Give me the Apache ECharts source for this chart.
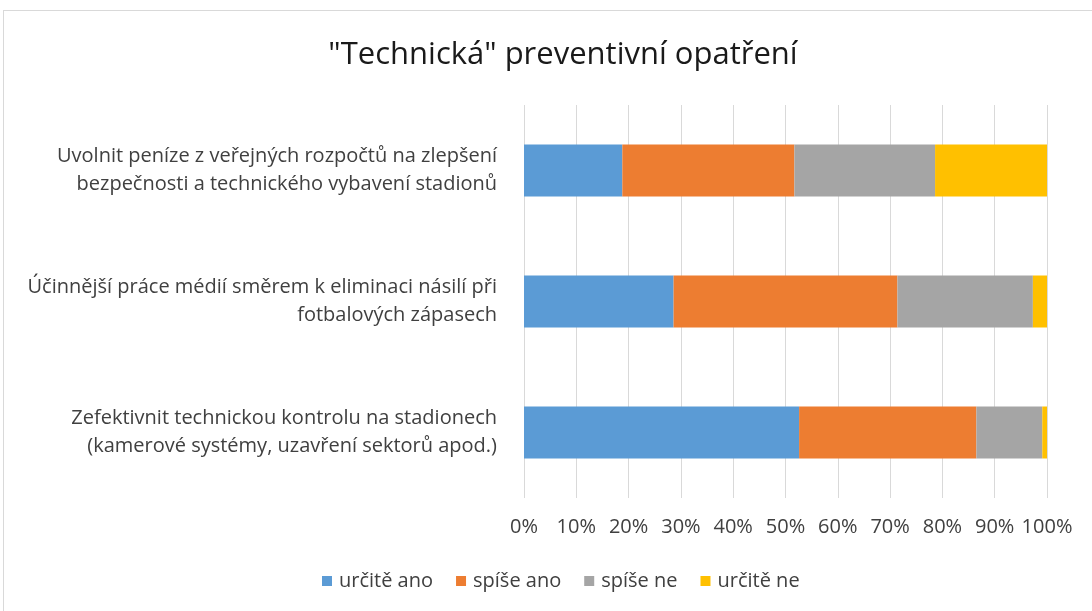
<!DOCTYPE html>
<html>
<head>
<meta charset="utf-8">
<script src="https://cdn.jsdelivr.net/npm/echarts@6/dist/echarts.min.js"></script>
<style>
  html, body { margin: 0; padding: 0; background: #fff; }
  #graf { position: absolute; left: 3px; top: 10px; width: 1120px; height: 620px; border: 1px solid #d9d9d9; box-sizing: border-box; }
  #chart { position: absolute; left: 0; top: 0; width: 1092px; height: 611px; }
</style>
</head>
<body>
<div id="graf"></div>
<div id="chart"></div>
<script>
// dados
const kategorie = [
    "Uvolnit peníze z veřejných rozpočtů na zlepšení\nbezpečnosti a technického vybavení stadionů",
    "Účinnější práce médií směrem k eliminaci násilí při\nfotbalových zápasech",
    "Zefektivnit technickou kontrolu na stadionech\n(kamerové systémy, uzavření sektorů apod.)"
];
const urciteAno = [18.8, 28.6, 52.6];
const spiseAno = [32.9, 42.8, 33.9];
const spiseNe = [26.9, 25.9, 12.6];
const urciteNe = [21.4, 2.7, 0.9];
const nazvySerii = ["určitě ano", "spíše ano", "spíše ne", "určitě ne"];
const barvy = ["#5b9bd5", "#ed7d31", "#a5a5a5", "#ffc000"];

const font = "'Open Sans', sans-serif";
let myChart = echarts.init(document.getElementById("chart"));

let serie = [urciteAno, spiseAno, spiseNe, urciteNe].map((dados, i) => ({
    name: nazvySerii[i],
    type: "bar",
    stack: "celkem",
    barWidth: 52,
    data: dados
}));

let option = {
    animation: false,
    color: barvy,
    title: {
        text: '"Technická" preventivní opatření',
        left: 558,
        top: 35,
        textAlign: "center",
        textStyle: { fontFamily: font, fontSize: 31, fontWeight: "normal", color: "#1a1a1a" }
    },
    legend: {
        top: 566,
        left: 317,
        itemWidth: 10,
        itemHeight: 10,
        itemGap: 23,
        icon: "rect",
        textStyle: { fontFamily: font, fontSize: 20, color: "#404040", padding: [0, 0, 0, 2] }
    },
    grid: { left: 524, right: 45, top: 105, bottom: 113 },
    xAxis: {
        type: "value",
        min: 0,
        max: 100,
        interval: 10,
        axisLine: { show: false },
        axisTick: { show: false },
        splitLine: { lineStyle: { color: "#d9d9d9", width: 1 } },
        axisLabel: { formatter: "{value}%", margin: 19, fontFamily: font, fontSize: 20, color: "#404040" }
    },
    yAxis: {
        type: "category",
        inverse: true,
        data: kategorie,
        axisLine: { show: false },
        axisTick: { show: false },
        axisLabel: { margin: 27, fontFamily: font, fontSize: 20, lineHeight: 28, color: "#404040", align: "right" }
    },
    series: serie
};

myChart.setOption(option);
</script>
</body>
</html>
